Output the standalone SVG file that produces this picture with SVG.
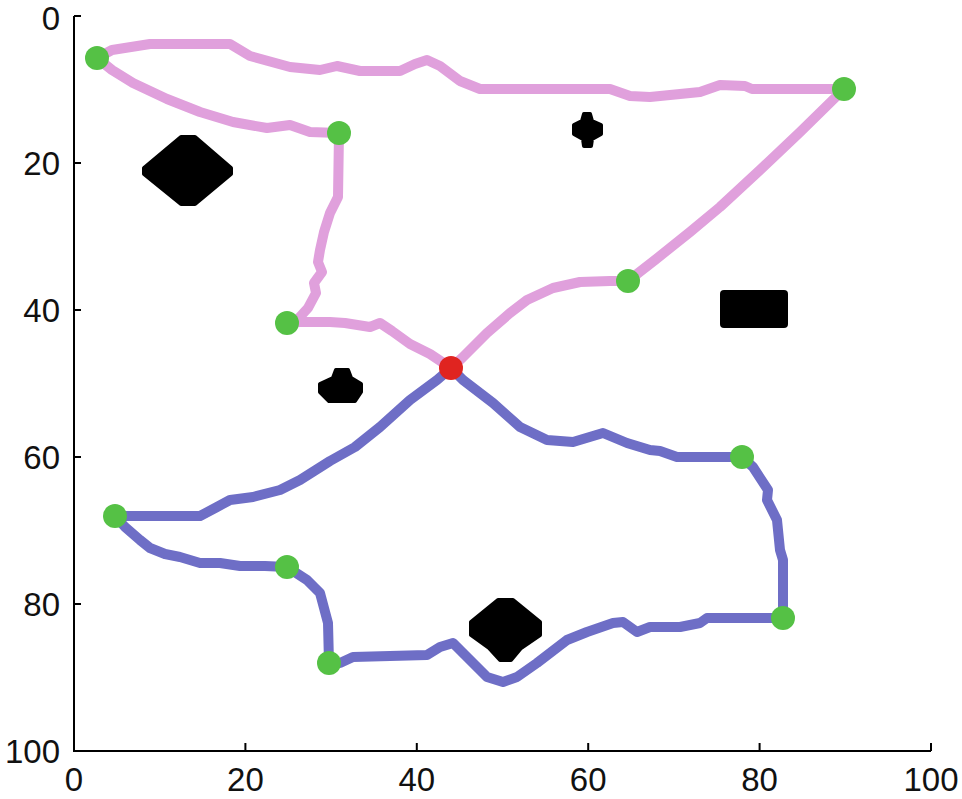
<svg xmlns="http://www.w3.org/2000/svg" width="962" height="799" viewBox="0 0 962 799">
<style>
.ax{stroke:#000;stroke-width:2;fill:none}
.lbl{font-family:"Liberation Sans",Arial,sans-serif;font-size:33px;fill:#111}
.ylbl{text-anchor:end}
.xlbl{text-anchor:middle}
.pk{stroke:#e0a0dc;stroke-width:10;fill:none;stroke-linejoin:round;stroke-linecap:round}
.bl{stroke:#6e6ec6;stroke-width:10;fill:none;stroke-linejoin:round;stroke-linecap:round}
.obs{fill:#000;stroke:#000;stroke-width:4;stroke-linejoin:round}
.g{fill:#55c145}
.r{fill:#e02420}
</style>
<rect width="962" height="799" fill="#fff"/>
<g id="axes">
<path class="ax" d="M74,16 V751 H931"/>
<path class="ax" d="M74,16 h7 M74,163 h7 M74,310 h7 M74,457 h7 M74,604 h7"/>
<path class="ax" d="M245.4,751 v-8 M416.8,751 v-8 M588.2,751 v-8 M759.6,751 v-8 M931,751 v-8"/>
<text class="lbl ylbl" x="60" y="30">0</text>
<text class="lbl ylbl" x="60" y="175">20</text>
<text class="lbl ylbl" x="60" y="322">40</text>
<text class="lbl ylbl" x="60" y="469">60</text>
<text class="lbl ylbl" x="60" y="616">80</text>
<text class="lbl ylbl" x="60" y="763">100</text>
<text class="lbl xlbl" x="74" y="791">0</text>
<text class="lbl xlbl" x="245.4" y="791">20</text>
<text class="lbl xlbl" x="416.8" y="791">40</text>
<text class="lbl xlbl" x="588.2" y="791">60</text>
<text class="lbl xlbl" x="759.6" y="791">80</text>
<text class="lbl xlbl" x="931" y="791">100</text>
</g>
<g id="obstacles">
<polygon class="obs" points="181,137 195,137 231,168 231,174 195,204 181,204 144,174 144,168"/>
<polygon class="obs" points="584,114 590,114 592,121 601,125 601,134 592,139 591,146 584,146 583,139 574,134 574,125 582,121"/>
<rect x="720" y="290" width="68" height="38" rx="4" fill="#000"/>
<polygon class="obs" points="336,370 348,370 351,378 361,384 361,392 355,401 329,401 320,392 320,384 333,378"/>
<polygon class="obs" points="498,600 513,600 540,622 540,635 521,648 511,660 500,660 489,648 471,635 471,622"/>
</g>
<g id="connectors">
<polyline class="pk" points="97,58 112,50 150,44 230,44 250,56 290,67 320,70 337,66 360,71 400,71 415,64 427,60 440,66 460,81 480,89 610,89 630,96 650,97 680,94 700,92 720,85 745,86 752,89 844,89"/>
<polyline class="pk" points="97,58 112,70 133,83 167,99 200,112 233,122 267,128 290,125 310,132 339,133"/>
<polyline class="pk" points="339,133 338,197 330,213 324,232 320,250 318,262 322,272 314,283 316,293 308,308 298,319 287,323"/>
<polyline class="pk" points="287,323 300,322 330,322 345,323 370,327 380,323 392,331 410,344 430,354 451,368"/>
<polyline class="pk" points="451,368 462,358 487,333 510,313 527,300 553,288 580,282 610,281 628,281"/>
<polyline class="pk" points="628,281 655,260 690,232 720,207 760,170 800,132 844,89"/>
<polyline class="bl" points="451,368 437,380 410,400 380,427 355,447 330,461 300,480 280,490 253,497 230,500 217,507 200,516 115,516"/>
<polyline class="bl" points="451,368 463,380 493,403 520,427 547,440 573,442 603,433 627,443 650,450 660,451 677,457 742,457"/>
<polyline class="bl" points="742,457 753,467 768,490 767,500 777,520 780,550 783,560 783,618"/>
<polyline class="bl" points="783,618 707,618 700,623 680,627 650,627 637,632 623,622 613,623 587,632 567,640 537,663 517,677 503,682 487,677 467,657 453,643 440,647 427,655 353,657 340,663 329,663"/>
<polyline class="bl" points="329,663 328,623 320,593 307,580 287,567"/>
<polyline class="bl" points="287,567 265,566 240,566 220,563 200,563 180,557 165,554 150,548 140,540 125,527 115,516"/>
</g>
<g id="n1"><circle class="g" cx="97" cy="58" r="12"/></g>
<g id="n2"><circle class="g" cx="339" cy="133" r="12"/></g>
<g id="n3"><circle class="g" cx="844" cy="89" r="12"/></g>
<g id="n4"><circle class="g" cx="628" cy="281" r="12"/></g>
<g id="n5"><circle class="g" cx="287" cy="323" r="12"/></g>
<g id="n6"><circle class="r" cx="451" cy="368" r="12"/></g>
<g id="n7"><circle class="g" cx="742" cy="457" r="12"/></g>
<g id="n8"><circle class="g" cx="115" cy="516" r="12"/></g>
<g id="n9"><circle class="g" cx="287" cy="567" r="12"/></g>
<g id="n10"><circle class="g" cx="783" cy="618" r="12"/></g>
<g id="n11"><circle class="g" cx="329" cy="663" r="12"/></g>
</svg>
